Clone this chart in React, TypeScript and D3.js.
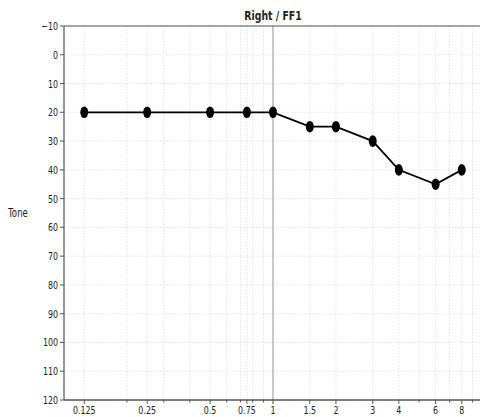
import React from 'react';
import * as d3 from 'd3';

const title = 'Right / FF1';
const yLabel = 'Tone';
const freqs = [0.125, 0.25, 0.5, 0.75, 1, 1.5, 2, 3, 4, 6, 8];
const levels = [20, 20, 20, 20, 20, 25, 25, 30, 40, 45, 40];
const xTickLabels = ['0.125', '0.25', '0.5', '0.75', '1', '1.5', '2', '3', '4', '6', '8'];
const yTicks = [-10, 0, 10, 20, 30, 40, 50, 60, 70, 80, 90, 100, 110, 120];
const minorFreqs = [0.2, 0.3, 0.4, 0.6, 0.7, 0.8, 0.9, 5, 7, 9];

const W = 480;
const H = 417;
const margin = { top: 26, right: -2, bottom: 17, left: 64 };
const font = '"DejaVu Sans", sans-serif';
const SX = 0.72; // text in the reference is squeezed horizontally

function Label({ x, y, size, anchor, bold, children }: any) {
  return (
    <text transform={`translate(${x},${y}) scale(${SX},1)`} textAnchor={anchor}
      fontFamily={font} fontSize={size} fontWeight={bold ? 'bold' : 'normal'} fill="#222">
      {children}
    </text>
  );
}

export default function App() {
  const x = d3.scaleLog().domain([0.1, 10]).range([margin.left, W - margin.right]);
  const y = d3.scaleLinear().domain([-10, 120]).range([margin.top, H - margin.bottom]);
  const line = d3.line<number>()
    .x((_, i) => x(freqs[i]))
    .y(d => y(d));

  const gridX = [...freqs, ...minorFreqs];

  return (
    <svg width={W} height={H} style={{ position: 'absolute', left: 0, top: 0, display: 'block' }}>
      <rect width={W} height={H} fill="#fff" />
      {gridX.map(f => (
        <line key={'gx' + f} x1={x(f)} x2={x(f)} y1={y(-10)} y2={y(120)}
          stroke="#d6d6d6" strokeWidth={0.7} strokeDasharray="1.5,1.5" />
      ))}
      {yTicks.map(t => (
        <line key={'gy' + t} x1={margin.left} x2={W} y1={y(t)} y2={y(t)}
          stroke="#d6d6d6" strokeWidth={0.7} strokeDasharray="1.5,1.5" />
      ))}
      <line x1={x(1)} x2={x(1)} y1={y(-10)} y2={y(120)} stroke="#999" strokeWidth={1} />
      <line x1={margin.left} x2={W} y1={y(-10)} y2={y(-10)} stroke="#555" strokeWidth={1.2} />
      <line x1={margin.left} x2={W} y1={y(120)} y2={y(120)} stroke="#555" strokeWidth={1.6} />
      <line x1={margin.left} x2={margin.left} y1={y(-10)} y2={y(120)} stroke="#555" strokeWidth={1.2} />
      {yTicks.map(t => (
        <g key={'yt' + t}>
          <line x1={margin.left - 4} x2={margin.left} y1={y(t)} y2={y(t)} stroke="#555" />
          <Label x={margin.left - 6} y={y(t) + 4} size={11} anchor="end">
            {t < 0 ? '\u2212' + Math.abs(t) : t}
          </Label>
        </g>
      ))}
      {freqs.map((f, i) => (
        <g key={'xt' + f}>
          <line x1={x(f)} x2={x(f)} y1={y(120)} y2={y(120) + 4} stroke="#555" />
          <Label x={x(f)} y={y(120) + 14} size={11} anchor="middle">{xTickLabels[i]}</Label>
        </g>
      ))}
      {minorFreqs.map(f => (
        <line key={'mt' + f} x1={x(f)} x2={x(f)} y1={y(120)} y2={y(120) + 2.5} stroke="#555" />
      ))}
      <Label x={(margin.left + W - margin.right) / 2} y={20} size={13} anchor="middle" bold>{title}</Label>
      <Label x={18} y={(y(-10) + y(120)) / 2 + 4} size={12} anchor="middle">{yLabel}</Label>
      <path d={line(levels) || ''} fill="none" stroke="#000" strokeWidth={1.8} />
      {levels.map((v, i) => (
        <ellipse key={'pt' + i} cx={x(freqs[i])} cy={y(v)} rx={4} ry={5.8} fill="#000" />
      ))}
    </svg>
  );
}
